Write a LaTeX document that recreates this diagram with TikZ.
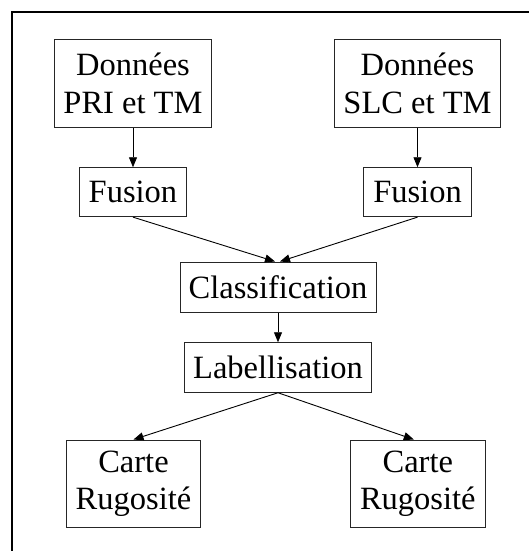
\documentclass[tikz,border=0pt]{standalone}
\usepackage{fontspec}
\setmainfont{Liberation Serif}
\usetikzlibrary{arrows.meta}
\begin{document}
\begin{tikzpicture}[x=1pt,y=-1pt,
  box/.style={draw=black!85, line width=0.9pt, inner sep=0pt, align=center,
    font=\fontsize{32.5}{37.5}\selectfont},
  arr/.style={line width=0.9pt, -{Triangle[length=10pt,width=8pt]}},
  conn/.style={line width=0.9pt}]
\useasboundingbox (0,0) rectangle (529,551);
\draw[line width=2.2pt] (12,551) -- (12,12) -- (529,12);
\node[box, minimum width=157.4pt, minimum height=88pt] (d1) at (133,83.3) {Données\\PRI et TM};
\node[box, minimum width=166.7pt, minimum height=88pt] (d2) at (417.5,83.3) {Données\\SLC et TM};
\node[box, minimum width=107.7pt, minimum height=49pt] (f1) at (133,192.2) {Fusion};
\node[box, minimum width=107.7pt, minimum height=49pt] (f2) at (417.5,192.2) {Fusion};
\node[box, minimum width=196pt, minimum height=50.3pt] (c) at (278,287.1) {Classification};
\node[box, minimum width=187.4pt, minimum height=49.6pt] (l) at (278,367.5) {Labellisation};
\node[box, minimum width=134.3pt, minimum height=87.7pt] (r1) at (133.5,483.8) {Carte\\Rugosité};
\node[box, minimum width=134.3pt, minimum height=87.7pt] (r2) at (417.8,483.8) {Carte\\Rugosité};
\draw[arr] (d1.south) -- (f1.north);
\draw[arr] (d2.south) -- (f2.north);
\draw[arr] (f1.south) -- ([xshift=-3pt]c.north);
\draw[arr] (f2.south) -- ([xshift=2pt]c.north);
\draw[arr] (c.south) -- (l.north);
\draw[arr] (l.south) -- (r1.north);
\draw[arr] (l.south) -- ([xshift=-4pt]r2.north);
\end{tikzpicture}
\end{document}
